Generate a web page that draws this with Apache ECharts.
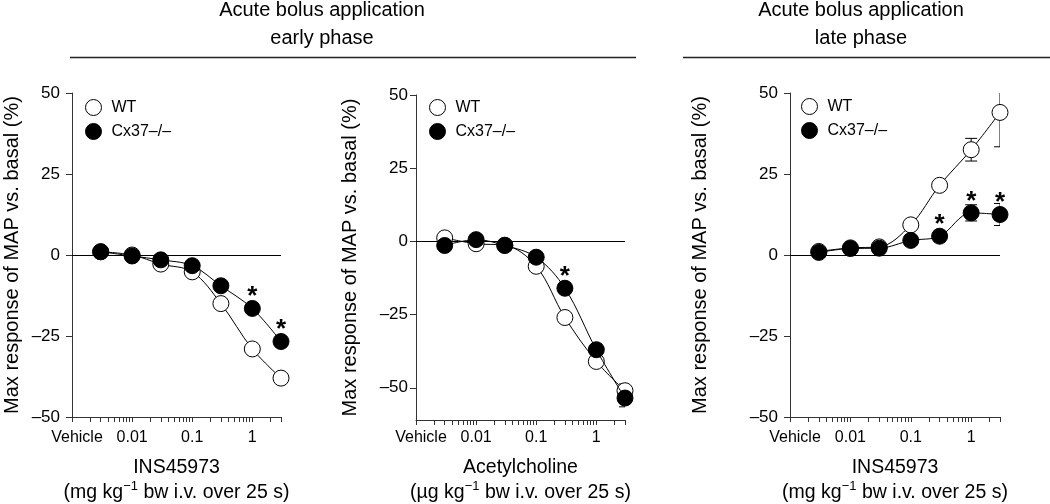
<!DOCTYPE html>
<html>
<head>
<meta charset="utf-8">
<script src="https://cdn.jsdelivr.net/npm/echarts@6/dist/echarts.min.js"></script>
<style>html,body{margin:0;padding:0;background:#fff}#c{width:1050px;height:504px}</style>
</head>
<body>
<div id="c"></div>
<script>
// ---- data ----
const doses = [0.003, 0.01, 0.03, 0.1, 0.3, 1, 3];
const p1WT = [1.0, 0.0, -2.8, -5.2, -15.0, -29.0, -38.0];
const p1KO = [1.0, -0.3, -1.5, -3.3, -9.5, -16.5, -26.7];
const p2WT = [1.2, -0.8, -1.3, -8.5, -26.0, -41.0, -51.0];
const p2KO = [-1.4, 0.6, -1.4, -5.4, -16.0, -37.0, -53.5];
const p3WT = [1.1, 2.2, 2.5, 9.3, 21.5, 32.5, 44.0];
const p3KO = [0.8, 2.0, 2.1, 4.5, 5.8, 13.0, 12.5];
const p1WTerr = [0, 0, 0, 0, 0, 0, 0];
const p1KOerr = [0, 0, 0, 0, 0, 0, 0];
const p2WTerr = [0, 0, 0, 0, 0, 0, 2.3];
const p2KOerr = [0, 0, 0, 0, 0, 0, 3.0];
const p3WTerr = [0, 0, 0, 0, 0, 3.5, 10.6];
const p3KOerr = [0, 0, 0, 0, 0, 2.5, 3.4];
const sig1 = [0, 0, 0, 0, 0, 1, 1];
const sig2 = [0, 0, 0, 0, 1, 0, 0];
const sig3 = [0, 0, 0, 0, 1, 1, 1];
const xMajorTicks = [0.001, 0.01, 0.1, 1];
const xTickValues = [0.001,0.002,0.003,0.004,0.005,0.006,0.007,0.008,0.009,
  0.01,0.02,0.03,0.04,0.05,0.06,0.07,0.08,0.09,
  0.1,0.2,0.3,0.4,0.5,0.6,0.7,0.8,0.9,1,2,3];
const yTicks = [-50, -25, 0, 25, 50];
const seriesNames = ['WT', 'Cx37–/–'];
const xTitles = [
  'INS45973\n(mg kg{sup|−1} bw i.v. over 25 s)',
  'Acetylcholine\n(µg kg{sup|−1} bw i.v. over 25 s)',
  'INS45973\n(mg kg{sup|−1} bw i.v. over 25 s)'
];
const yTitle = 'Max response of MAP vs. basal (%)';
const topTitles = ['Acute bolus application\nearly phase', 'Acute bolus application\nlate phase'];

const FONT = '"Liberation Sans", Arial, Helvetica, sans-serif';
const panels = [
  {wt: p1WT, ko: p1KO, wtErr: p1WTerr, koErr: p1KOerr, sig: sig1, ymin: -50,
   grid: {left: 72, top: 93, width: 209, height: 324, outerBoundsMode: 'none', containLabel: false},
   nameGap: 38, labMargin: 13, yNameGap: 50, yLabMargin: 12,
   legend: {left: 80, top: 94}},
  {wt: p2WT, ko: p2KO, wtErr: p2WTerr, koErr: p2KOerr, sig: sig2, ymin: -61,
   grid: {left: 416, top: 95, width: 209, height: 325, outerBoundsMode: 'none', containLabel: false},
   nameGap: 35, labMargin: 10, yNameGap: 56, yLabMargin: 8,
   legend: {left: 424, top: 94}},
  {wt: p3WT, ko: p3KO, wtErr: p3WTerr, koErr: p3KOerr, sig: sig3, ymin: -50,
   grid: {left: 790, top: 93, width: 210, height: 324, outerBoundsMode: 'none', containLabel: false},
   nameGap: 38, labMargin: 13, yNameGap: 80, yLabMargin: 12,
   legend: {left: 796, top: 93}}
];

function errData(vals, errs) {
  const out = [];
  for (let i = 0; i < doses.length; i++) {
    if (errs[i] > 0) out.push([doses[i], vals[i] - errs[i], vals[i] + errs[i]]);
  }
  return out;
}
function renderErr(params, api) {
  const x = api.value(0), lo = api.value(1), hi = api.value(2);
  const a = api.coord([x, hi]), b = api.coord([x, lo]);
  const w = 6;
  const st = {stroke: '#000', lineWidth: 1};
  return {type: 'group', children: [
    {type: 'line', shape: {x1: a[0], y1: a[1], x2: b[0], y2: b[1]}, style: st},
    {type: 'line', shape: {x1: a[0] - w, y1: a[1], x2: a[0] + w, y2: a[1]}, style: st},
    {type: 'line', shape: {x1: b[0] - w, y1: b[1], x2: b[0] + w, y2: b[1]}, style: st}
  ]};
}
const yFmt = v => (v < 0 ? '–' + (-v) : String(v));
const xFmt = v => {
  if (Math.abs(v - 0.001) < 1e-9) return '{veh|Vehicle}';
  if (Math.abs(v - 0.01) < 1e-9) return '0.01';
  if (Math.abs(v - 0.1) < 1e-9) return '0.1';
  if (Math.abs(v - 1) < 1e-9) return '1';
  return '';
};

const grids = [], xAxes = [], yAxes = [], series = [], legends = [];
panels.forEach((p, i) => {
  grids.push(p.grid);
  xAxes.push({
    type: 'log', logBase: 10, gridIndex: i, min: 0.001, max: 3,
    axisLine: {show: true, onZero: false, lineStyle: {color: '#333', width: 1}},
    axisTick: {show: true, inside: false, customValues: xTickValues, length: 5, lineStyle: {color: '#333'}},
    minorTick: {show: false},
    axisLabel: {customValues: xMajorTicks, formatter: xFmt, fontSize: 16, color: '#000', fontFamily: FONT,
      margin: p.labMargin, rich: {veh: {fontSize: 16, color: '#000', fontFamily: FONT, padding: [0, 0, 0, 10]}}},
    splitLine: {show: false},
    name: xTitles[i], nameLocation: 'middle', nameGap: p.nameGap,
    nameTextStyle: {fontSize: 19.5, color: '#000', fontFamily: FONT, lineHeight: 25,
      rich: {sup: {fontSize: 13, color: '#000', fontFamily: FONT, padding: [0, 0, 12, 0]}}}
  });
  yAxes.push({
    type: 'value', gridIndex: i, min: p.ymin, max: 50,
    axisLine: {show: true, onZero: false, lineStyle: {color: '#333', width: 1}},
    axisTick: {show: true, inside: false, customValues: yTicks, length: 6, lineStyle: {color: '#333'}},
    axisLabel: {customValues: yTicks, formatter: yFmt, fontSize: 17, color: '#000', fontFamily: FONT, margin: p.yLabMargin},
    splitLine: {show: false},
    name: yTitle, nameLocation: 'middle', nameGap: p.yNameGap, nameRotate: 90,
    nameTextStyle: {fontSize: 20, color: '#000', fontFamily: FONT}
  });
  const sigLabel = {show: true, formatter: '*', position: 'top', distance: -10,
    fontSize: 26, fontWeight: 'bold', color: '#000', fontFamily: FONT};
  series.push({
    type: 'custom', xAxisIndex: i, yAxisIndex: i, z: 1, clip: true, silent: true,
    renderItem: renderErr, data: errData(p.wt, p.wtErr).concat(errData(p.ko, p.koErr))
  });
  series.push({
    type: 'line', name: seriesNames[0], xAxisIndex: i, yAxisIndex: i, smooth: 0.35,
    symbol: 'circle', symbolSize: 16, z: 2,
    lineStyle: {color: '#000', width: 1},
    itemStyle: {color: '#fff', borderColor: '#000', borderWidth: 1},
    data: doses.map((d, k) => [d, p.wt[k]]),
    markLine: {silent: true, symbol: 'none', label: {show: false}, animation: false,
      lineStyle: {color: '#000', width: 1, type: 'solid'}, emphasis: {disabled: true},
      data: [{yAxis: 0}]}
  });
  series.push({
    type: 'line', name: seriesNames[1], xAxisIndex: i, yAxisIndex: i, smooth: 0.35,
    symbol: 'circle', symbolSize: 16, z: 3,
    lineStyle: {color: '#000', width: 1},
    itemStyle: {color: '#000', borderColor: '#000', borderWidth: 1},
    data: doses.map((d, k) => p.sig[k] ? {value: [d, p.ko[k]], label: sigLabel} : [d, p.ko[k]])
  });
  legends.push({
    left: p.legend.left, top: p.legend.top, orient: 'vertical', itemWidth: 16, itemHeight: 16, itemGap: 7,
    icon: 'circle', selectedMode: false,
    textStyle: {fontSize: 16, color: '#000', fontFamily: FONT, padding: [0, 0, 0, 5]},
    data: [
      {name: seriesNames[0], itemStyle: {color: '#fff', borderColor: '#000', borderWidth: 1}},
      {name: seriesNames[1], itemStyle: {color: '#000', borderColor: '#000', borderWidth: 1}}
    ]
  });
});

const chart = echarts.init(document.getElementById('c'), null, {renderer: 'canvas'});
chart.setOption({
  animation: false,
  backgroundColor: '#fff',
  title: [
    {text: topTitles[0], left: 322, top: -4, textAlign: 'center', padding: 0,
     textStyle: {fontSize: 20, fontWeight: 'normal', color: '#000', lineHeight: 28, fontFamily: FONT}},
    {text: topTitles[1], left: 861, top: -4, textAlign: 'center', padding: 0,
     textStyle: {fontSize: 20, fontWeight: 'normal', color: '#000', lineHeight: 28, fontFamily: FONT}}
  ],
  graphic: [
    {type: 'line', shape: {x1: 70, y1: 57.5, x2: 636, y2: 57.5}, style: {stroke: '#222', lineWidth: 1.5}},
    {type: 'line', shape: {x1: 683, y1: 57.5, x2: 1050, y2: 57.5}, style: {stroke: '#222', lineWidth: 1.5}}
  ],
  legend: legends,
  grid: grids,
  xAxis: xAxes,
  yAxis: yAxes,
  series: series
});
</script>
</body>
</html>
